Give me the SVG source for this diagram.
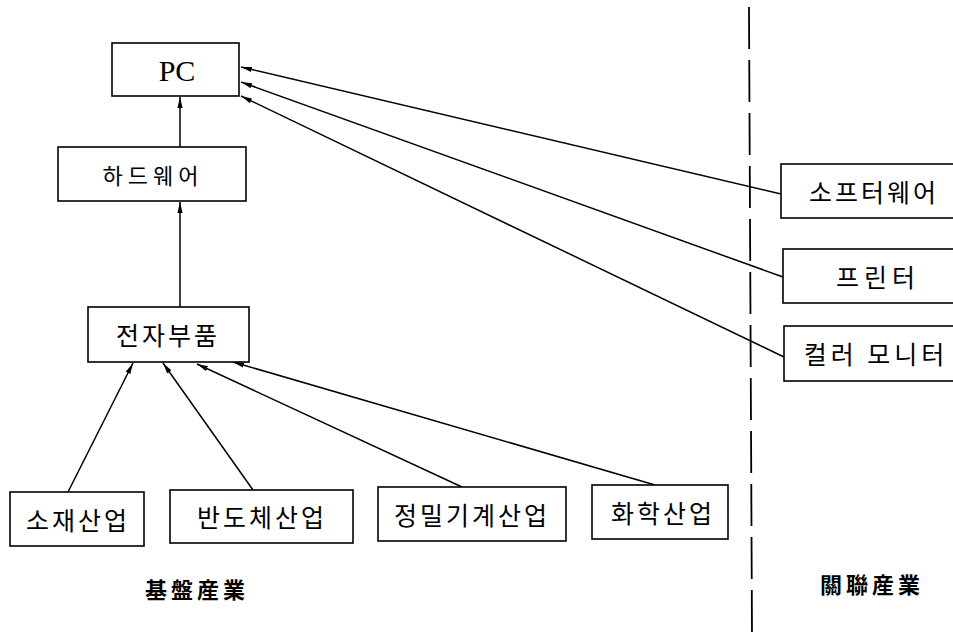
<svg xmlns="http://www.w3.org/2000/svg" width="953" height="635" viewBox="0 0 953 635">
<style>
.box{fill:#fff;stroke:#000;stroke-width:1.6}
.lbl{font-family:"Noto Sans CJK KR","Noto Sans CJK SC",sans-serif;font-size:25px;letter-spacing:3px;text-anchor:middle;dominant-baseline:central;fill:#000}
.pc{font-family:"Liberation Serif",serif;font-size:30px;text-anchor:middle;dominant-baseline:central;fill:#000}
.cap{font-family:"Noto Sans CJK KR","Noto Sans CJK TC",sans-serif;font-size:22px;font-weight:bold;letter-spacing:4px;text-anchor:middle;dominant-baseline:central;fill:#000}
.ln{stroke:#000;stroke-width:1.5;fill:none;marker-end:url(#ah)}
</style>
<defs>
<marker id="ah" markerUnits="userSpaceOnUse" markerWidth="11" markerHeight="6" viewBox="0 0 11 6" refX="11" refY="3" orient="auto">
<path d="M0,0.4 L11,3 L0,5.6 z" fill="#000"/>
</marker>
</defs>
<rect width="953" height="635" fill="#fff"/>
<line x1="749" y1="7" x2="752" y2="635" stroke="#000" stroke-width="1.8" stroke-dasharray="42 11"/>
<g id="connectors">
<line class="ln" x1="180" y1="147" x2="180" y2="97"/>
<line class="ln" x1="180" y1="307" x2="180" y2="202"/>
<line class="ln" x1="781" y1="194" x2="241" y2="67"/>
<line class="ln" x1="783" y1="277" x2="241" y2="82"/>
<line class="ln" x1="784" y1="357" x2="241" y2="96"/>
<line class="ln" x1="68" y1="492" x2="133" y2="363"/>
<line class="ln" x1="253" y1="490" x2="163" y2="363"/>
<line class="ln" x1="462" y1="487" x2="197" y2="364"/>
<line class="ln" x1="655" y1="485" x2="233" y2="362"/>
</g>
<g id="pc"><rect class="box" x="112" y="43" width="127" height="53"/><text class="pc" x="177" y="70">PC</text></g>
<g id="hardware"><rect class="box" x="58" y="147" width="188" height="54"/><text class="lbl" x="153" y="174" style="font-size:22px;letter-spacing:5px">하드웨어</text></g>
<g id="parts"><rect class="box" x="88" y="307" width="161" height="55"/><text class="lbl" x="168" y="334">전자부품</text></g>
<g id="material"><rect class="box" x="10" y="492" width="134" height="54"/><text class="lbl" x="78" y="519">소재산업</text></g>
<g id="semiconductor"><rect class="box" x="170" y="490" width="183" height="53"/><text class="lbl" x="262" y="516">반도체산업</text></g>
<g id="machinery"><rect class="box" x="378" y="487" width="188" height="54"/><text class="lbl" x="472" y="514">정밀기계산업</text></g>
<g id="chemical"><rect class="box" x="592" y="485" width="136" height="54"/><text class="lbl" x="663" y="512">화학산업</text></g>
<g id="software"><rect class="box" x="781" y="164" width="200" height="54"/><text class="lbl" x="874" y="191">소프터웨어</text></g>
<g id="printer"><rect class="box" x="783" y="249" width="200" height="54"/><text class="lbl" x="878" y="276" style="letter-spacing:5px">프린터</text></g>
<g id="monitor"><rect class="box" x="784" y="326" width="200" height="55"/><text class="lbl" x="876" y="353" style="letter-spacing:4px">컬러 모니터</text></g>
<g id="cap-base"><text class="cap" x="197" y="588">基盤産業</text></g>
<g id="cap-rel"><text class="cap" x="872" y="583">關聯産業</text></g>
</svg>
